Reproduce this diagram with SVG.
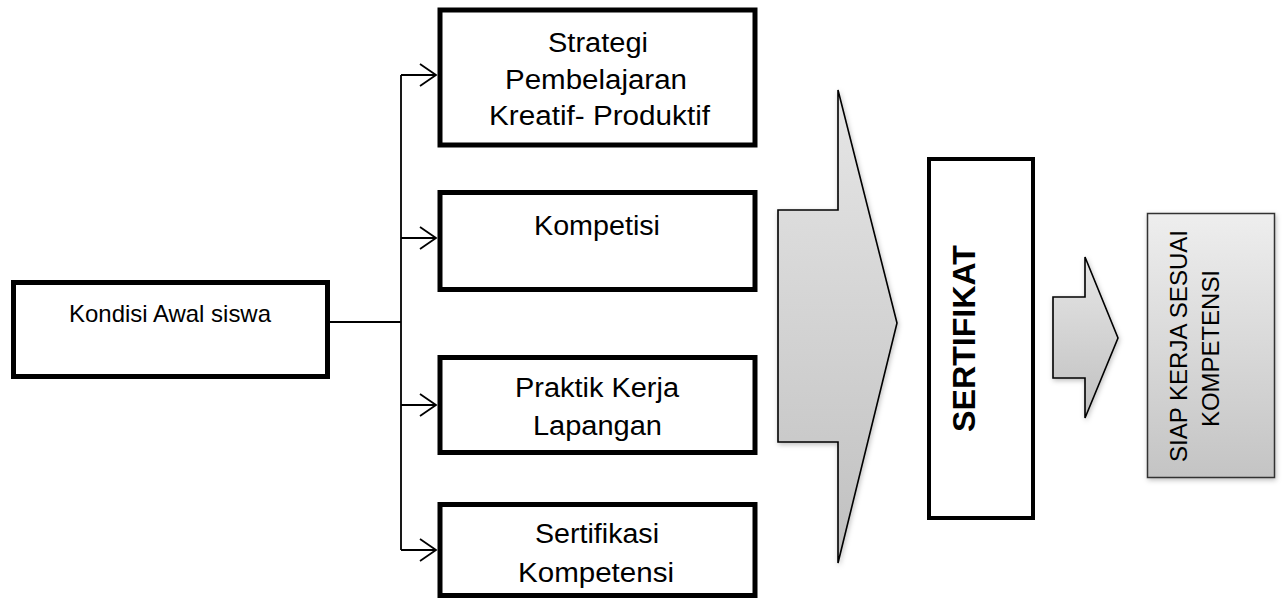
<svg xmlns="http://www.w3.org/2000/svg" width="1283" height="599" viewBox="0 0 1283 599">
<style>
.box{fill:#fff;stroke:#000;stroke-width:5}
.t{font-family:"Liberation Sans",Arial,sans-serif;font-size:27px;fill:#000;text-anchor:middle}
.conn{fill:none;stroke:#000;stroke-width:1.8}
.garrow{stroke:#000;stroke-width:1.6;stroke-linejoin:miter}
</style>
<defs>
<linearGradient id="g1" x1="0" y1="0" x2="0" y2="1">
<stop offset="0" stop-color="#e6e6e6"/>
<stop offset="1" stop-color="#c0c0c0"/>
</linearGradient>
<linearGradient id="g2" x1="0" y1="0" x2="0" y2="1">
<stop offset="0" stop-color="#eeeeee"/>
<stop offset="1" stop-color="#c4c4c4"/>
</linearGradient>
<filter id="sh" x="-20%" y="-20%" width="140%" height="140%">
<feDropShadow dx="1" dy="2" stdDeviation="2.5" flood-color="#000" flood-opacity="0.25"/>
</filter>
</defs>

<g id="connectors">
<path class="conn" d="M330 322 H401 M401 75 V550 M401 75 H436 M401 238 H436 M401 405 H436 M401 550 H436"/>
<path class="conn" d="M420 64 L436 75 L420 86 M420 227 L436 238 L420 249 M420 394 L436 405 L420 416 M420 539 L436 550 L420 561"/>
</g>

<g id="kondisi">
<rect class="box" x="13.5" y="282.5" width="314" height="94"/>
<text class="t" x="170" y="322" style="font-size:24px" textLength="202" lengthAdjust="spacingAndGlyphs">Kondisi Awal siswa</text>
</g>

<g id="strategi">
<rect class="box" x="440" y="10" width="315" height="135"/>
<text class="t" x="598" y="52" textLength="100" lengthAdjust="spacingAndGlyphs">Strategi</text>
<text class="t" x="596" y="89" textLength="182" lengthAdjust="spacingAndGlyphs">Pembelajaran</text>
<text class="t" x="599.5" y="125" textLength="221" lengthAdjust="spacingAndGlyphs">Kreatif- Produktif</text>
</g>

<g id="kompetisi">
<rect class="box" x="440" y="192.5" width="315" height="97"/>
<text class="t" x="597" y="235" textLength="126" lengthAdjust="spacingAndGlyphs">Kompetisi</text>
</g>

<g id="praktik">
<rect class="box" x="440" y="357.5" width="315" height="95"/>
<text class="t" x="597" y="397" textLength="164" lengthAdjust="spacingAndGlyphs">Praktik Kerja</text>
<text class="t" x="597.5" y="435" textLength="129" lengthAdjust="spacingAndGlyphs">Lapangan</text>
</g>

<g id="sertifikasi">
<rect class="box" x="440" y="504.5" width="315" height="91"/>
<text class="t" x="597" y="543" textLength="124" lengthAdjust="spacingAndGlyphs">Sertifikasi</text>
<text class="t" x="596" y="582" textLength="156" lengthAdjust="spacingAndGlyphs">Kompetensi</text>
</g>

<g id="big-arrow">
<path class="garrow" fill="url(#g1)" filter="url(#sh)" d="M778 210 H838 V90 L897 323 L838 563 V442 H778 Z"/>
</g>

<g id="sertifikat">
<rect x="929" y="159" width="104" height="359" fill="#fff" stroke="#000" stroke-width="4"/>
<text class="t" transform="translate(975,338.5) rotate(-90)" style="font-size:31px;font-weight:bold" textLength="187" lengthAdjust="spacingAndGlyphs">SERTIFIKAT</text>
</g>

<g id="small-arrow">
<path class="garrow" fill="url(#g1)" filter="url(#sh)" d="M1053 297 H1085 V257 L1118 338 L1085 418 V378 H1053 Z"/>
</g>

<g id="siap">
<rect x="1147.5" y="213.5" width="127" height="264" fill="url(#g2)" stroke="#333" stroke-width="1.5" filter="url(#sh)"/>
<text class="t" transform="translate(1187,346) rotate(-90)" style="font-size:24px" textLength="232" lengthAdjust="spacingAndGlyphs">SIAP KERJA SESUAI</text>
<text class="t" transform="translate(1219,348.5) rotate(-90)" style="font-size:24px" textLength="157" lengthAdjust="spacingAndGlyphs">KOMPETENSI</text>
</g>
</svg>
